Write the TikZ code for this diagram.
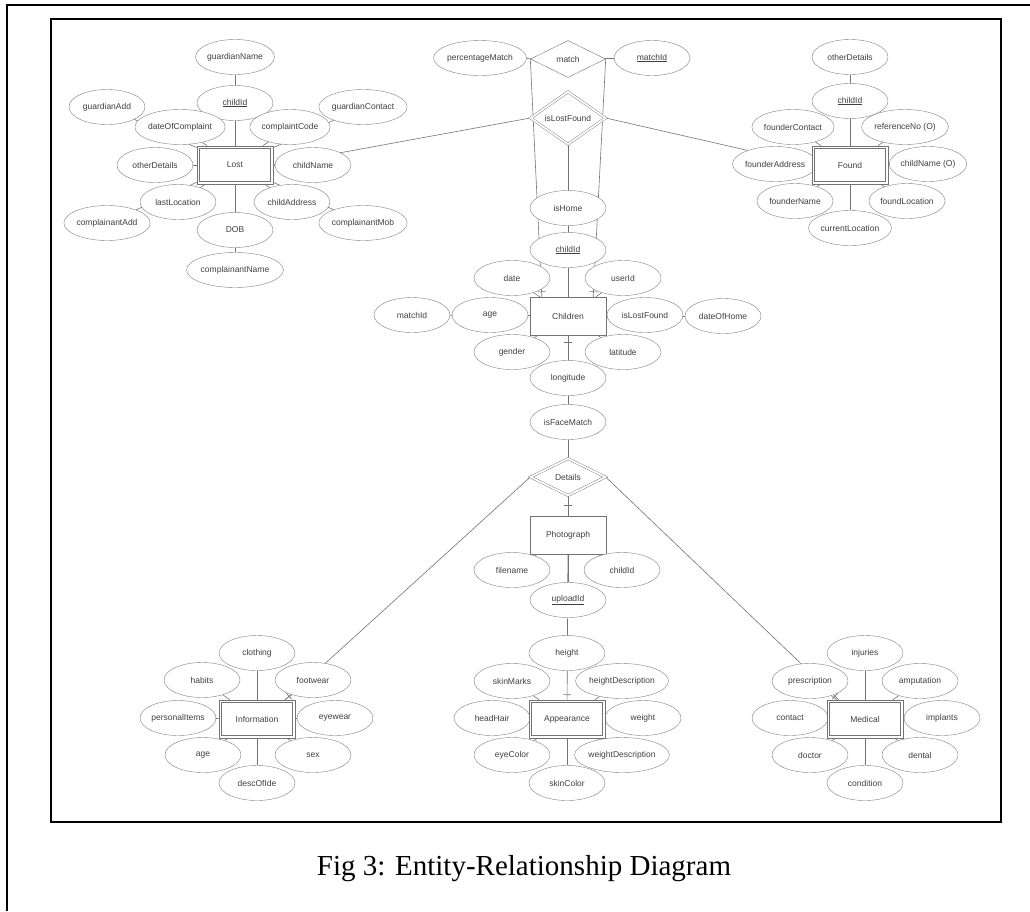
\documentclass[tikz,border=0pt]{standalone}
\usepackage{fontspec}
\setmainfont{Liberation Serif}
\newfontfamily\dsans{Liberation Sans}
\usetikzlibrary{shapes.geometric,backgrounds,decorations.markings}
\begin{document}
\begin{tikzpicture}[x=1pt,y=-1pt,
  lbl/.style={font=\dsans\fontsize{8.5}{9}\selectfont, text=black!75},
  attr/.style={lbl, ellipse, draw=black!50, fill=white, minimum width=76pt, minimum height=35pt, inner sep=0pt},
  ent/.style={lbl, rectangle, draw=black!55, fill=white, minimum width=76pt, minimum height=38pt, inner sep=0pt},
  went/.style={ent, line width=0.6pt, path picture={\draw[black!55, line width=0.6pt]
      ([shift={(2.6pt,-2.6pt)}]path picture bounding box.north west) rectangle
      ([shift={(-2.6pt,2.6pt)}]path picture bounding box.south east);}},
  rel/.style={lbl, diamond, draw=black!55, fill=white, minimum width=75pt, minimum height=37pt, inner sep=0pt},
  wrel/.style={rel, double, double distance=1.8pt},
  link/.style={draw=black!55, line width=0.6pt},
  tickat/.style={postaction={decorate}, decoration={markings, mark=at position #1 with {\draw[black!55, line width=0.6pt] (0,-4pt) -- (0,4pt);}}},
  frame/.style={line width=1.4pt, draw=black}]
\useasboundingbox (0,0) rectangle (1030,911);
\draw[frame] (7,911) -- (7,5) -- (1030,5);
\draw[frame] (51,19) rectangle (1001,822);

% ---- Lost cluster
\node[attr] (lgn)  at (235,57)  {guardianName};
\node[attr] (lga)  at (107,107) {guardianAdd};
\node[attr] (lgc)  at (363,107) {guardianContact};
\node[attr] (lcid) at (235,103) {\underline{childId}};
\node[attr] (ldoc) at (180,127) {dateOfComplaint};
\node[attr] (lcc)  at (290,127) {complaintCode};
\node[attr] (lod)  at (155,165) {otherDetails};
\node[attr] (lcn)  at (313,165) {childName};
\node[attr] (lca)  at (107,223) {complainantAdd};
\node[attr] (lcm)  at (363,223) {complainantMob};
\node[attr] (lll)  at (178,202) {lastLocation};
\node[attr] (lcad) at (292,202) {childAddress};
\node[attr] (lcpn) at (235,270) {complainantName};
\node[attr] (ldob) at (235,230) {DOB};
\node[went] (lost) at (235,165) {Lost};

% ---- Found cluster
\node[attr] (fod)  at (850,57)  {otherDetails};
\node[attr] (fcid) at (850,101) {\underline{childId}};
\node[attr] (ffc)  at (793,127) {founderContact};
\node[attr] (frn)  at (905,127) {referenceNo (O)};
\node[attr] (ffa)  at (775,164) {founderAddress};
\node[attr] (fcn)  at (928,164) {childName (O)};
\node[attr] (fcl)  at (850,228) {currentLocation};
\node[attr] (ffn)  at (795,201) {founderName};
\node[attr] (ffl)  at (907,201) {foundLocation};
\node[went] (found) at (850,165) {Found};

% ---- top relationships
\node[attr] (pm)   at (480,58)  {percentageMatch};
\node[attr] (mid)  at (652,58)  {\underline{matchId}};
\node[rel]  (match) at (568,59) {match};
\node[wrel] (ilf)  at (568,118) {isLostFound};
\node[attr] (ishome) at (568,208) {isHome};

% ---- Children cluster
\node[attr] (ccid) at (568,250) {\underline{childId}};
\node[attr] (cdate) at (512,278) {date};
\node[attr] (cuid) at (623,278) {userId};
\node[attr] (cmid) at (412,315) {matchId};
\node[attr] (cdoh) at (723,316) {dateOfHome};
\node[attr] (cage) at (490,315) {age};
\node[attr] (cilf) at (645,315) {isLostFound};
\node[attr] (cgen) at (512,352) {gender};
\node[attr] (clat) at (623,352) {latitude};
\node[attr] (clon) at (568,378) {longitude};
\node[ent]  (children) at (568,316) {Children};
\node[attr] (ifm)  at (568,422) {isFaceMatch};
\node[wrel] (details) at (568,477) {Details};

% ---- Photograph
\node[ent]  (photo) at (568,535) {Photograph};
\node[attr] (pfn)  at (512,570) {filename};
\node[attr] (pcid) at (622,570) {childId};
\node[attr] (puid) at (568,600) {\underline{uploadId}};

% ---- Information cluster
\node[attr] (icl)  at (257,653) {clothing};
\node[attr] (iha)  at (202,680) {habits};
\node[attr] (ifw)  at (313,680) {footwear};
\node[attr] (ipi)  at (178,718) {personalItems};
\node[attr] (iey)  at (335,718) {eyewear};
\node[attr] (iage) at (203,755) {age};
\node[attr] (isex) at (313,755) {sex};
\node[attr] (idoi) at (257,783) {descOfIde};
\node[went] (info) at (257,719) {Information};

% ---- Appearance cluster
\node[attr] (ahe)  at (567,653) {height};
\node[attr] (asm)  at (512,681) {skinMarks};
\node[attr] (ahd)  at (622,681) {heightDescription};
\node[attr] (ahh)  at (492,718) {headHair};
\node[attr] (awe)  at (643,718) {weight};
\node[attr] (aec)  at (512,755) {eyeColor};
\node[attr] (awd)  at (622,755) {weightDescription};
\node[attr] (asc)  at (567,783) {skinColor};
\node[went] (app)  at (567,719) {Appearance};

% ---- Medical cluster
\node[attr] (min)  at (865,653) {injuries};
\node[attr] (mpr)  at (810,681) {prescription};
\node[attr] (mam)  at (920,681) {amputation};
\node[attr] (mco)  at (790,718) {contact};
\node[attr] (mim)  at (942,718) {implants};
\node[attr] (mdo)  at (810,755) {doctor};
\node[attr] (mde)  at (920,755) {dental};
\node[attr] (mcn)  at (865,783) {condition};
\node[went] (med)  at (865,719) {Medical};

% ---- caption
\node[font=\fontsize{29}{32}\selectfont] (cap) at (524,869) {Fig 3: Entity-Relationship Diagram};

\begin{pgfonlayer}{background}
  \foreach \a in {lgn,lga,lgc,lcid,ldoc,lcc,lod,lcn,lca,lcm,lll,lcad,lcpn,ldob}
    \draw[link] (lost) -- (\a);
  \foreach \a in {fod,fcid,ffc,frn,ffa,fcn,fcl,ffn,ffl}
    \draw[link] (found) -- (\a);
  \foreach \a in {ccid,cdate,cuid,cmid,cdoh,cage,cilf,cgen,clat}
    \draw[link] (children) -- (\a);
  \foreach \a in {pfn,pcid,puid}
    \draw[link] (photo) -- (\a);
  \foreach \a in {icl,iha,ifw,ipi,iey,iage,isex,idoi}
    \draw[link] (info) -- (\a);
  \foreach \a in {asm,ahd,ahh,awe,aec,awd,asc}
    \draw[link] (app) -- (\a);
  \foreach \a in {min,mpr,mam,mco,mim,mdo,mde,mcn}
    \draw[link] (med) -- (\a);
  \draw[link] (pm) -- (match);
  \draw[link] (mid) -- (match);
  \draw[link, tickat=-5pt] (match.west) -- ([xshift=12pt]children.north west);
  \draw[link, tickat=-5pt] (match.east) -- ([xshift=-13pt]children.north east);
  \draw[link] (ilf) -- (children);
  \draw[link] (ilf.west) -- (lost.east);
  \draw[link] (ilf.east) -- (found.west);
  \draw[link, tickat=7pt] (children) -- (details);
  \draw[link, tickat=10pt] (details) -- (photo);
  \draw[link, tickat=-5pt] (photo) -- (app);
  \draw[link, tickat=-5pt] (details.west) -- ([xshift=-10pt]info.north east);
  \draw[link, tickat=-5pt] (details.east) -- ([xshift=12pt]med.north west);
\end{pgfonlayer}
\end{tikzpicture}
\end{document}
